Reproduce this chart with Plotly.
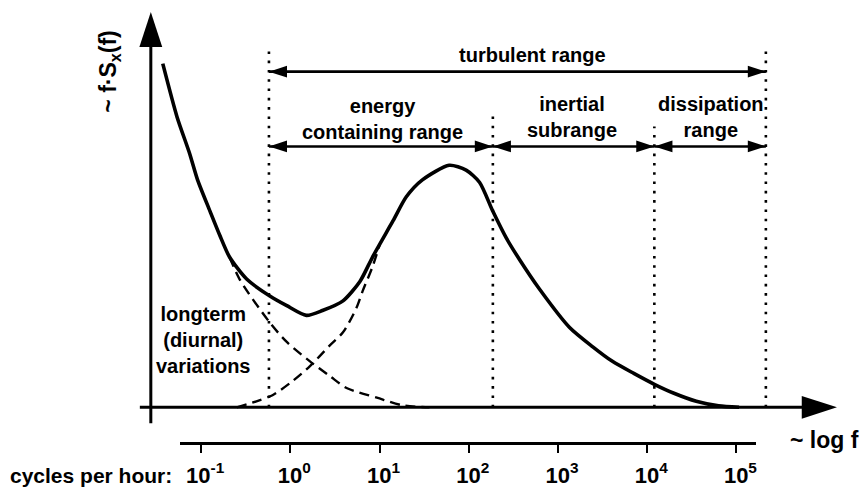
import plotly.graph_objects as go

# ---- spectrum f*S_x(f) against log10(f), f in cycles per hour (arbitrary y units) ----
log_f_total = [-1.43, -1.27, -1.13, -1.04, -0.90, -0.79, -0.68, -0.49, -0.23, -0.04,
               0.18, 0.36, 0.59, 0.78, 0.92, 1.15, 1.30, 1.48, 1.78, 1.97,
               2.12, 2.27, 2.42, 2.57, 2.79, 3.13, 3.39, 3.61, 3.85, 4.08,
               4.30, 4.55, 4.80, 5.03]
spec_total = [1.42, 1.20, 1.05, 0.94, 0.81, 0.71, 0.62, 0.53, 0.46, 0.42,
              0.38, 0.40, 0.44, 0.52, 0.62, 0.77, 0.87, 0.94, 1.00, 0.98,
              0.93, 0.81, 0.70, 0.61, 0.49, 0.33, 0.25, 0.19, 0.14, 0.095,
              0.058, 0.025, 0.006, 0.0]

# long-term (diurnal) component
log_f_longterm = [-0.68, -0.57, -0.23, -0.04, 0.22, 0.44, 0.63, 0.97, 1.26, 1.56]
spec_longterm = [0.62, 0.53, 0.35, 0.27, 0.19, 0.13, 0.08, 0.04, 0.008, 0.0]

# turbulent component
log_f_turb = [-0.60, -0.38, -0.20, 0.03, 0.22, 0.44, 0.59, 0.74, 0.81, 0.92, 1.00]
spec_turb = [0.0, 0.025, 0.05, 0.11, 0.17, 0.255, 0.31, 0.41, 0.48, 0.58, 0.67]

# range boundaries in log10(f)
bound_low = -0.24
bound_inertial = 2.27
bound_dissipation = 4.08
bound_high = 5.33

decade_exponents = [-1, 0, 1, 2, 3, 4, 5]
decade_labels = ["10<sup>%d</sup>" % e for e in decade_exponents]

# ---- frame ----
W, H = 865, 488
X_RANGE = [-3.2545, 6.4301]
Y_RANGE = [-0.3251, 1.6831]
FONT = "Liberation Sans, Arial, sans-serif"
BLACK = "#000000"

fig = go.Figure()

# dotted boundaries
dotted_x = [bound_low, bound_inertial, bound_dissipation, bound_high]
dotted_top = [1.47, 1.23, 1.16, 1.47]
for xb, yt in zip(dotted_x, dotted_top):
    fig.add_trace(go.Scatter(x=[xb, xb], y=[0, yt], mode="lines",
                             line=dict(color=BLACK, width=2.6, dash="2.6px,6.7px"),
                             hoverinfo="skip", showlegend=False))

# component curves
fig.add_trace(go.Scatter(x=log_f_longterm, y=spec_longterm, mode="lines",
                         line=dict(color=BLACK, width=2.4, dash="10px,6px", shape="spline", smoothing=0.8),
                         hoverinfo="skip", showlegend=False))
fig.add_trace(go.Scatter(x=log_f_turb, y=spec_turb, mode="lines",
                         line=dict(color=BLACK, width=2.4, dash="10px,6px", shape="spline", smoothing=0.8),
                         hoverinfo="skip", showlegend=False))

# total spectrum
fig.add_trace(go.Scatter(x=log_f_total, y=spec_total, mode="lines",
                         line=dict(color=BLACK, width=3.6, shape="spline", smoothing=0.7),
                         hoverinfo="skip", showlegend=False))

# coordinate axes with arrow tips
AX_X0, AX_XTIP = -1.687, 6.127
AY_X, AY_Y0, AY_YTIP = -1.564, -0.066, 1.634
fig.add_trace(go.Scatter(x=[AX_X0, AX_XTIP - 0.33], y=[0, 0], mode="lines",
                         line=dict(color=BLACK, width=3), hoverinfo="skip", showlegend=False))
fig.add_trace(go.Scatter(x=[AY_X, AY_X], y=[AY_Y0, AY_YTIP - 0.12], mode="lines",
                         line=dict(color=BLACK, width=3), hoverinfo="skip", showlegend=False))
fig.add_trace(go.Scatter(x=[AX_XTIP, AY_X], y=[0, AY_YTIP], mode="markers",
                         marker=dict(symbol="arrow", size=37, angle=[90, 0], color=BLACK,
                                     line=dict(width=0)),
                         hoverinfo="skip", showlegend=False, cliponaxis=False))

# double-headed range arrows
range_rows = [
    (bound_low, bound_high, 1.387),
    (bound_low, bound_inertial, 1.078),
    (bound_inertial, bound_dissipation, 1.078),
    (bound_dissipation, bound_high, 1.078),
]
for x0, x1, yr in range_rows:
    fig.add_trace(go.Scatter(x=[x0, x1], y=[yr, yr], mode="lines",
                             line=dict(color=BLACK, width=2.6),
                             hoverinfo="skip", showlegend=False))
    fig.add_trace(go.Scatter(x=[x0, x1], y=[yr, yr], mode="markers",
                             marker=dict(symbol="arrow", size=19, angle=[-90, 90], color=BLACK,
                                         line=dict(width=0)),
                             hoverinfo="skip", showlegend=False))

# frequency scale underneath: its own x axis sharing the plot's y axis
d0, d1 = 180 / W, 757 / W
span = X_RANGE[1] - X_RANGE[0]
x2_range = [X_RANGE[0] + d0 * span, X_RANGE[0] + d1 * span]
fig.add_trace(go.Scatter(x=decade_exponents, y=[0] * len(decade_exponents), xaxis="x2",
                         mode="markers", marker=dict(opacity=0), hoverinfo="skip", showlegend=False))

label_font = dict(family=FONT, size=20, color=BLACK, weight="bold")
labels = [
    ("turbulent range", 2.71, 1.457),
    ("energy<br>containing range", 1.03, 1.193),
    ("inertial<br>subrange", 3.16, 1.20),
    ("dissipation<br>range", 4.72, 1.20),
    ("longterm<br>(diurnal)<br>variations", -0.98, 0.28),
]
for text, xl, yl in labels:
    fig.add_annotation(text=text, x=xl, y=yl, xref="x", yref="y", showarrow=False,
                       font=label_font, align="center", xanchor="center", yanchor="middle")

fig.add_annotation(text="~ f·S<sub>x</sub>(f)", x=0.127, y=0.852, xref="paper", yref="paper",
                   textangle=-90, showarrow=False, xanchor="center", yanchor="middle",
                   font=dict(family=FONT, size=23, color=BLACK, weight="bold"))
fig.add_annotation(text="cycles per hour:", x=0.105, y=0.022, xref="paper", yref="paper",
                   showarrow=False, xanchor="center", yanchor="middle",
                   font=dict(family=FONT, size=21, color=BLACK, weight="bold"))
fig.add_annotation(text="~ log f", x=0.954, y=0.094, xref="paper", yref="paper",
                   showarrow=False, xanchor="center", yanchor="middle",
                   font=dict(family=FONT, size=23, color=BLACK, weight="bold"))

fig.update_layout(
    width=W, height=H, autosize=False,
    margin=dict(l=0, r=0, t=0, b=0),
    paper_bgcolor="white", plot_bgcolor="rgba(0,0,0,0)",
    showlegend=False,
    xaxis=dict(range=X_RANGE, visible=False, fixedrange=True),
    yaxis=dict(range=Y_RANGE, visible=False, fixedrange=True),
    xaxis2=dict(domain=[d0, d1], range=x2_range, anchor="free", position=(H - 445) / H,
                side="bottom",
                showline=True, linecolor=BLACK, linewidth=3,
                ticks="outside", ticklen=8, tickwidth=2, tickcolor=BLACK,
                tickvals=decade_exponents, ticktext=decade_labels,
                tickfont=dict(family=FONT, size=22, color=BLACK, weight="bold"),
                ticklabelshift=4, ticklabelstandoff=3,
                showgrid=False, zeroline=False, fixedrange=True),
)

fig.write_html("out.html")
